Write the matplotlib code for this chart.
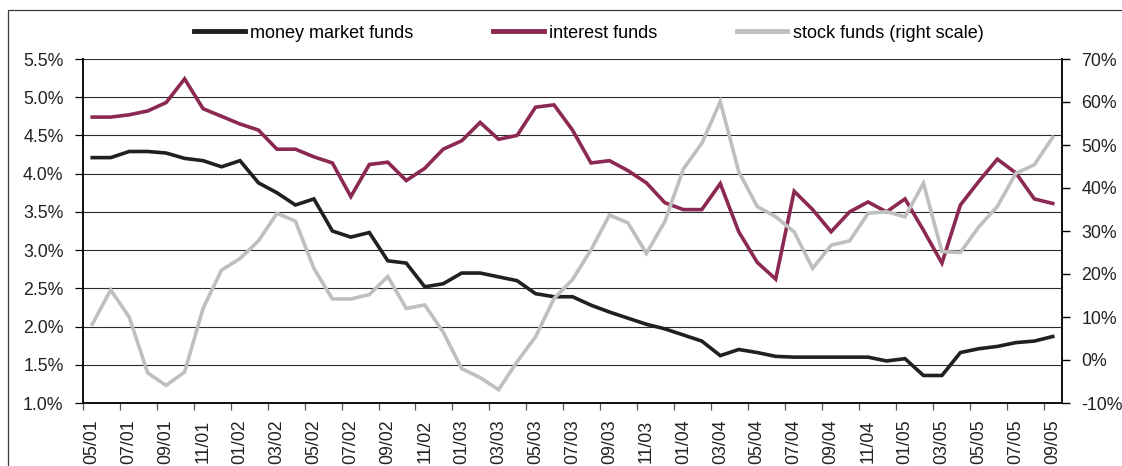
import matplotlib.pyplot as plt
import pandas as pd
from matplotlib.patches import Rectangle
from matplotlib.ticker import FuncFormatter, MultipleLocator

plt.rcParams['font.family'] = ['Liberation Sans', 'DejaVu Sans']
plt.rcParams['font.size'] = 12.8

# monthly observations, May 2001 - Sep 2005
months = pd.date_range('2001-05-01', '2005-09-01', freq='MS').strftime('%m/%y').tolist()

money_market = [4.21, 4.21, 4.29, 4.29, 4.27, 4.20, 4.17, 4.09, 4.17, 3.88,
                3.75, 3.59, 3.67, 3.25, 3.17, 3.23, 2.86, 2.83, 2.52, 2.56,
                2.70, 2.70, 2.65, 2.60, 2.43, 2.39, 2.39, 2.28, 2.19, 2.11,
                2.03, 1.97, 1.89, 1.81, 1.62, 1.70, 1.66, 1.61, 1.60, 1.60,
                1.60, 1.60, 1.60, 1.55, 1.58, 1.36, 1.36, 1.66, 1.71, 1.74,
                1.79, 1.81, 1.87]

interest = [4.74, 4.74, 4.77, 4.82, 4.93, 5.24, 4.85, 4.75, 4.65, 4.57,
            4.32, 4.32, 4.22, 4.14, 3.70, 4.12, 4.15, 3.91, 4.07, 4.32,
            4.43, 4.67, 4.45, 4.50, 4.87, 4.90, 4.57, 4.14, 4.17, 4.04,
            3.88, 3.62, 3.53, 3.53, 3.87, 3.24, 2.84, 2.62, 3.77, 3.53,
            3.24, 3.50, 3.63, 3.50, 3.67, 3.26, 2.83, 3.59, 3.90, 4.19,
            4.01, 3.67, 3.61]

stock = [8.3, 16.3, 10.0, -3.0, -5.9, -2.8, 12.0, 20.9, 23.6, 27.7,
         34.1, 32.3, 21.3, 14.2, 14.2, 15.2, 19.4, 12.0, 12.8, 6.5,
         -2.0, -4.1, -6.9, -0.4, 5.4, 14.3, 18.7, 25.6, 33.7, 31.9,
         24.8, 32.2, 44.4, 50.4, 60.1, 43.8, 35.7, 33.3, 29.8, 21.3,
         26.7, 27.7, 34.1, 34.5, 33.3, 41.1, 25.2, 25.0, 31.0, 35.7,
         43.4, 45.4, 51.8]

x = list(range(len(months)))

fig = plt.figure(figsize=(11.22, 4.66), dpi=100)
ax = fig.add_axes([83 / 1122, 1 - 403 / 466, (1062 - 83) / 1122, (403 - 59) / 466])
ax2 = ax.twinx()

# outer frame of the chart
fig.patches.append(Rectangle((8 / 1122, -0.2), 1.2, 1.2 - 10 / 466,
                             transform=fig.transFigure, fill=False,
                             edgecolor='#3a3a3a', linewidth=0.9, clip_on=False))

l1, = ax.plot(x, money_market, color='#231f20', lw=2.6, solid_joinstyle='miter', label='money market funds')
l2, = ax.plot(x, interest, color='#8b2952', lw=2.6, solid_joinstyle='miter', label='interest funds')
l3, = ax2.plot(x, stock, color='#bfbfbf', lw=2.6, solid_joinstyle='miter', label='stock funds (right scale)')

ax.set_xlim(-0.5, len(months) - 0.5)
ax.set_ylim(1.0, 5.5)
ax2.set_ylim(-10, 70)

ax.yaxis.set_major_locator(MultipleLocator(0.5))
ax.yaxis.set_major_formatter(FuncFormatter(lambda v, p: f'{v:.1f}%'))
ax2.yaxis.set_major_locator(MultipleLocator(10))
ax2.yaxis.set_major_formatter(FuncFormatter(lambda v, p: f'{v:.0f}%'))

ax.grid(axis='y', color='#2b2b2b', lw=0.8)
ax.set_axisbelow(True)

# labels on every second month, tick marks between categories
ax.set_xticks(x[::2])
ax.set_xticklabels(months[::2], rotation=90)
ax.set_xticks([i - 0.5 for i in x[::2]], minor=True)
ax.tick_params(axis='x', which='major', length=0, pad=12, labelcolor='#222222')
ax.tick_params(axis='x', which='minor', length=5, width=0.9, direction='out', color='#555555')
ax.tick_params(axis='y', length=6, width=0.9, pad=8, labelcolor='#222222')
ax2.tick_params(axis='y', length=6, width=1.0, pad=8, labelcolor='#222222')

for a in (ax, ax2):
    a.spines['top'].set_visible(False)
    for s in ('left', 'right', 'bottom'):
        a.spines[s].set_linewidth(1.3)
        a.spines[s].set_color('#111111')

fig.legend(handles=[l1, l2, l3], loc='center', bbox_to_anchor=(589 / 1122, 1 - 33 / 466),
           ncol=3, frameon=False, handlelength=2.8, handletextpad=0.3,
           columnspacing=4.4, borderpad=0, fontsize=13)
for h in fig.legends[0].get_lines():
    h.set_linewidth(3.5)

fig.savefig('out.png', dpi=100)
